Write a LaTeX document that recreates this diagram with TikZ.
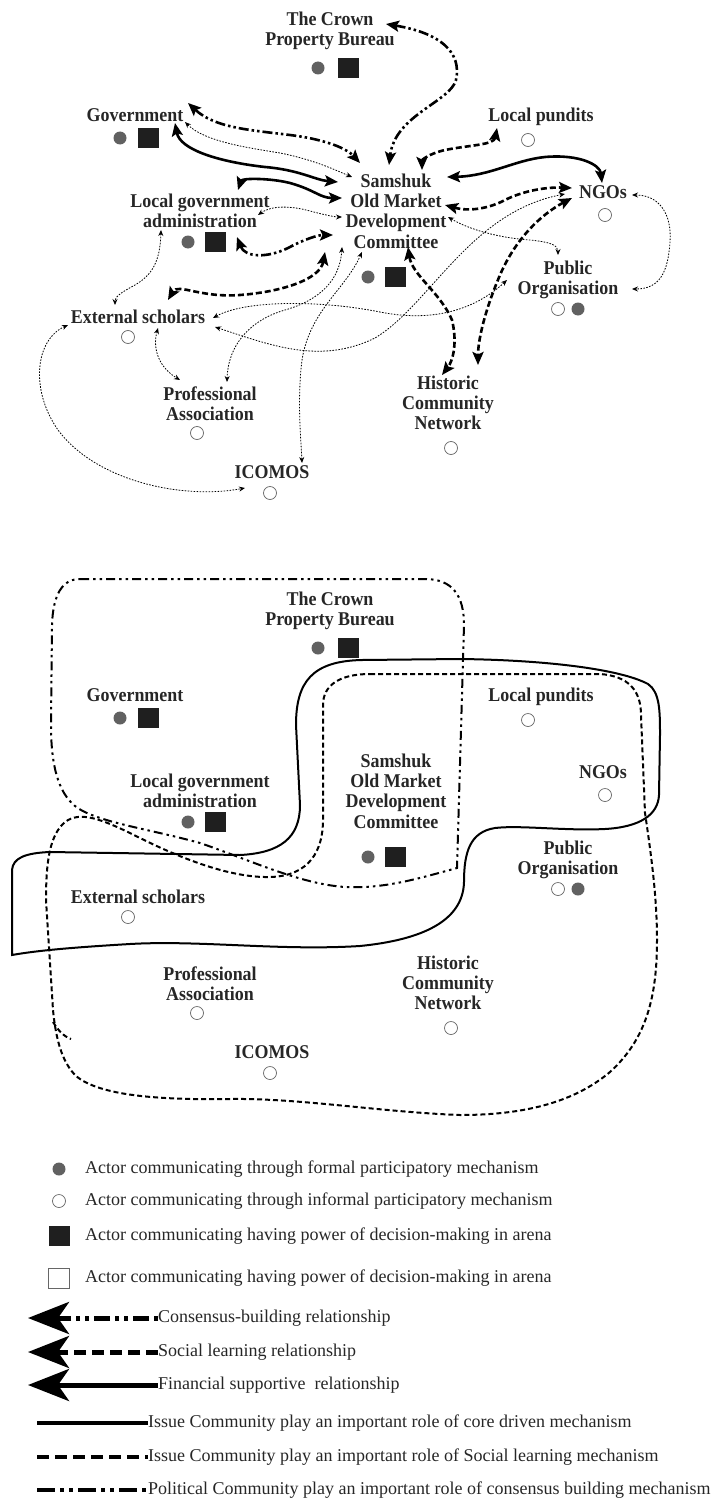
\documentclass[tikz,border=0pt]{standalone}
\usepackage{fontspec}
\setmainfont{Liberation Serif}
\newfontfamily\labelfont[FakeStretch=0.92]{Liberation Serif}
\usetikzlibrary{arrows.meta}
\tikzset{
  bigtip/.tip={Stealth[length=13pt,width=11pt,inset=2.5pt]},
  smalltip/.tip={Stealth[length=6pt,width=5pt]},
  legendtip/.tip={Stealth[length=41pt,width=32pt,inset=11pt]},
  actor/.style={font=\labelfont\bfseries\fontsize{19.5}{20.3}\selectfont, align=center, inner sep=1pt, text=black!85},
  legtext/.style={font=\fontsize{18}{20}\selectfont, anchor=west, inner sep=0pt, text=black!85},
  formal/.style={circle, fill=black!62, minimum size=13pt, inner sep=0pt},
  informal/.style={circle, draw=black!60, line width=.7pt, fill=white, minimum size=13pt, inner sep=0pt},
  power/.style={rectangle, fill=black!88, minimum width=21pt, minimum height=20pt, inner sep=0pt},
  nopower/.style={rectangle, draw=black!60, line width=.7pt, minimum width=21pt, minimum height=20pt, inner sep=0pt},
  consensus/.style={line width=2.6pt, dash pattern=on 10pt off 3pt on 2.5pt off 3pt on 2.5pt off 3pt},
  learning/.style={line width=2.6pt, dash pattern=on 6pt off 3pt},
  financial/.style={line width=2.6pt},
  twoway/.style={bigtip-bigtip},
  dotlink/.style={line width=.8pt, dash pattern=on 1.6pt off 1.4pt, smalltip-smalltip},
  corecom/.style={line width=2pt},
  soccom/.style={line width=2pt, dash pattern=on 5pt off 3pt},
  polcom/.style={line width=2pt, dash pattern=on 9pt off 4pt on 2.5pt off 4pt on 2.5pt off 4pt},
}
\begin{document}
\begin{tikzpicture}[x=1pt,y=-1pt]
    \useasboundingbox (0,0) rectangle (715,1501);
    %actors, once for the relations and once for the communities:
    \foreach \dy/\s in {0/1,580/2}{
        \foreach \x/\y/\n/\l in {330/31/crown/{The Crown\\Property Bureau},135/115/gov/Government,541/117/pundit/Local pundits,396/211/sam/{Samshuk\\Old Market\\Development\\Committee},200/211/lga/{Local government\\administration},603/192/ngo/NGOs,568/280/pub/{Public\\Organisation},138/317/ext/External scholars,210/404/prof/{Professional\\Association},448/403/hist/{Historic\\Community\\Network},272/472/icomos/ICOMOS}{
            \node[actor] (\n\s) at (\x,\y+\dy) {\l};
        }
        \foreach \x/\y/\n/\kind in {318/68/crownf/formal,348/68/crownp/power,120/138/govf/formal,148/138/govp/power,188/242/lgaf/formal,215/242/lgap/power,368/277/samf/formal,395/277/samp/power,528/140/punditi/informal,605/215/ngoi/informal,558/309/pubi/informal,578/309/pubf/formal,128/337/exti/informal,197/433/profi/informal,451/448/histi/informal,270/493/icomosi/informal}{
            \node[\kind] (\n\s) at (\x,\y+\dy) {};
        }
    }

    %consensus-building
    \draw[consensus, twoway] ([shift={(56,-7)}]crown1.center) .. controls (440,33) and (462,52) .. (456,80) .. controls (450,102) and (395,115) .. ([shift={(-7,-46)}]sam1.center);
    \draw[consensus, twoway] ([shift={(53,-12)}]gov1.center) .. controls (215,128) and (250,130) .. (290,135) .. controls (330,140) and (348,150) .. ([shift={(-36,-48)}]sam1.center);
    \draw[consensus, twoway] ([shift={(37,26)}]lga1.center) .. controls (245,258) and (268,258) .. (288,248) .. controls (305,239) and (318,235) .. ([shift={(-63,24)}]sam1.center);
    %financial supportive
    \draw[financial, twoway] ([shift={(40,8)}]gov1.center) .. controls (180,150) and (220,162) .. (265,167) .. controls (300,170) and (315,180) .. ([shift={(-58,-29)}]sam1.center);
    \draw[financial, twoway] ([shift={(38,-21)}]lga1.center) .. controls (242,178) and (270,178) .. (290,183) .. controls (315,190) and (320,198) .. ([shift={(-54,-13)}]sam1.center);
    \draw[financial, twoway] ([shift={(51,-34)}]sam1.center) .. controls (490,176) and (515,160) .. (545,157) .. controls (580,154) and (600,165) .. ([shift={(-1,-9)}]ngo1.center);
    %social learning
    \draw[learning, twoway] ([shift={(-44,11)}]pundit1.center) .. controls (494,145) and (470,145) .. (445,150) .. controls (428,154) and (422,160) .. ([shift={(26,-41)}]sam1.center);
    \draw[learning, twoway] ([shift={(49,-6)}]sam1.center) .. controls (470,212) and (490,208) .. (505,200) .. controls (525,190) and (548,187) .. ([shift={(-31,-4)}]ngo1.center);
    \draw[learning, twoway] ([shift={(-31,6)}]ngo1.center) .. controls (540,215) and (515,240) .. (500,275) .. controls (485,310) and (478,340) .. ([shift={(30,-38)}]hist1.center);
    \draw[learning, twoway] ([shift={(12,36)}]sam1.center) .. controls (412,275) and (440,292) .. (452,320) .. controls (458,345) and (452,362) .. ([shift={(-6,-28)}]hist1.center);
    \draw[learning, twoway] ([shift={(-71,41)}]sam1.center) .. controls (320,280) and (280,292) .. (240,295) .. controls (200,298) and (178,283) .. ([shift={(30,-17)}]ext1.center);
    %informal links
    \draw[dotlink] ([shift={(50,7)}]gov1.center) .. controls (205,142) and (250,148) .. (280,153) .. controls (315,160) and (335,170) .. ([shift={(-44,-34)}]sam1.center);
    \draw[dotlink] ([shift={(58,4)}]lga1.center) .. controls (272,205) and (292,206) .. (310,211) .. controls (325,215) and (335,217) .. ([shift={(-54,6)}]sam1.center);
    \draw[dotlink] ([shift={(52,6)}]sam1.center) .. controls (470,230) and (500,238) .. (530,240) .. controls (550,242) and (558,245) .. ([shift={(-10,-25)}]pub1.center);
    \draw[dotlink] ([shift={(29,3)}]ngo1.center) .. controls (660,195) and (672,215) .. (670,242) .. controls (668,272) and (660,289) .. ([shift={(64,9)}]pub1.center);
    \draw[dotlink] ([shift={(-54,36)}]sam1.center) .. controls (340,280) and (320,300) .. (285,310) .. controls (250,320) and (228,345) .. ([shift={(17,-22)}]prof1.center);
    \draw[dotlink] ([shift={(-34,41)}]sam1.center) .. controls (345,290) and (310,310) .. (302,360) .. controls (297,400) and (301,440) .. ([shift={(30,-9)}]icomos1.center);
    \draw[dotlink] ([shift={(-39,19)}]lga1.center) .. controls (160,262) and (152,275) .. (135,285) .. controls (120,293) and (115,297) .. ([shift={(-23,-12)}]ext1.center);
    \draw[dotlink] ([shift={(75,1)}]ext1.center) .. controls (245,300) and (320,300) .. (380,312) .. controls (440,324) and (480,305) .. ([shift={(-61,0)}]pub1.center);
    \draw[dotlink] ([shift={(77,10)}]ext1.center) .. controls (270,345) and (320,365) .. (375,338) .. controls (430,305) and (470,212) .. ([shift={(-38,2)}]ngo1.center);
    \draw[dotlink] ([shift={(20,11)}]ext1.center) .. controls (152,350) and (160,368) .. ([shift={(-30,-24)}]prof1.center);
    \draw[dotlink] ([shift={(-70,8)}]ext1.center) .. controls (35,340) and (30,390) .. (58,430) .. controls (95,480) and (180,500) .. ([shift={(-27,16)}]icomos1.center);

    %communities
    \draw[polcom] (80,579) -- (425,579) .. controls (452,579) and (464,595) .. (464,625) -- (457,868) .. controls (420,878) and (385,889) .. (345,887) .. controls (300,884) and (250,860) .. (200,843) .. controls (150,829) and (95,822) .. (75,806) .. controls (58,792) and (51,765) .. (51,725) -- (52,625) .. controls (53,595) and (62,579) .. (80,579) -- cycle;
    \draw[corecom] (296,725) .. controls (296,682) and (312,661) .. (362,660) -- (460,659) .. controls (545,660) and (620,669) .. (648,684) .. controls (660,692) and (660,712) .. (660,735) -- (659,795) .. controls (658,815) and (640,827) .. (605,829) .. controls (565,831) and (520,825) .. (495,828) .. controls (470,832) and (464,852) .. (464,882) .. controls (463,922) and (420,940) .. (360,946) .. controls (280,951) and (200,940) .. (130,944) .. controls (80,947) and (40,950) .. (12,955) -- (12,870) .. controls (13,858) and (25,853) .. (50,852) -- (240,855) .. controls (280,853) and (300,838) .. (300,805) -- cycle;
    \draw[soccom] (370,674) -- (600,674) .. controls (628,676) and (641,690) .. (641,715) -- (645,813) .. controls (652,860) and (657,900) .. (657,940) .. controls (657,1000) and (645,1040) .. (610,1072) .. controls (572,1104) and (520,1115) .. (460,1115) .. controls (380,1112) and (300,1098) .. (230,1099) .. controls (160,1100) and (100,1096) .. (76,1076) .. controls (62,1062) and (56,1040) .. (53,1010) -- (46,900) .. controls (46,860) and (50,835) .. (65,822) .. controls (80,811) and (100,818) .. (138,837) .. controls (180,858) and (230,878) .. (270,877) .. controls (310,876) and (323,850) .. (323,820) -- (323,705) .. controls (323,685) and (340,674) .. (370,674) -- cycle;
    \draw[soccom] (53,1022) .. controls (58,1030) and (63,1036) .. (71,1039);

    %legend
    \foreach \y/\kind/\txt [count=\i] in {1169/formal/{Actor communicating through formal participatory mechanism},1201/informal/{Actor communicating through informal participatory mechanism},1236/power/{Actor communicating having power of decision-making in arena},1278/nopower/{Actor communicating having power of decision-making in arena}}{
        \node[\kind] (key\i) at (59,\y) {};
        \node[legtext] (keytext\i) at (85,\y) {\txt};
    }
    \begin{scope}[consensus/.append style={dash pattern=on 4pt off 5pt on 16pt off 5pt on 4pt off 5pt}, learning/.append style={dash pattern=on 12pt off 6pt}, soccom/.append style={dash pattern=on 12pt off 6pt}, polcom/.append style={dash pattern=on 18pt off 5pt on 4pt off 5pt on 4pt off 5pt}]
        \foreach \y/\sty/\txt [count=\i] in {1318/consensus/{Consensus-building relationship},1352/learning/{Social learning relationship},1385/financial/{Financial supportive~ relationship}}{
            \coordinate (tip\i) at (28,\y);
            \node[legtext] (reltext\i) at (158,\y) {\txt};
            \draw[\sty, line width=5pt, -legendtip] (reltext\i.west) -- (tip\i);
        }
        \foreach \y/\sty/\txt [count=\i] in {1423/corecom/{Issue Community play an important role of core driven mechanism},1457/soccom/{Issue Community play an important role of Social learning mechanism},1490/polcom/{Political Community play an important role of consensus building mechanism}}{
            \coordinate (start\i) at (37,\y);
            \node[legtext] (comtext\i) at (148,\y) {\txt};
            \draw[\sty, line width=4.5pt] (start\i) -- (comtext\i.west);
        }
    \end{scope}
\end{tikzpicture}
\end{document}
